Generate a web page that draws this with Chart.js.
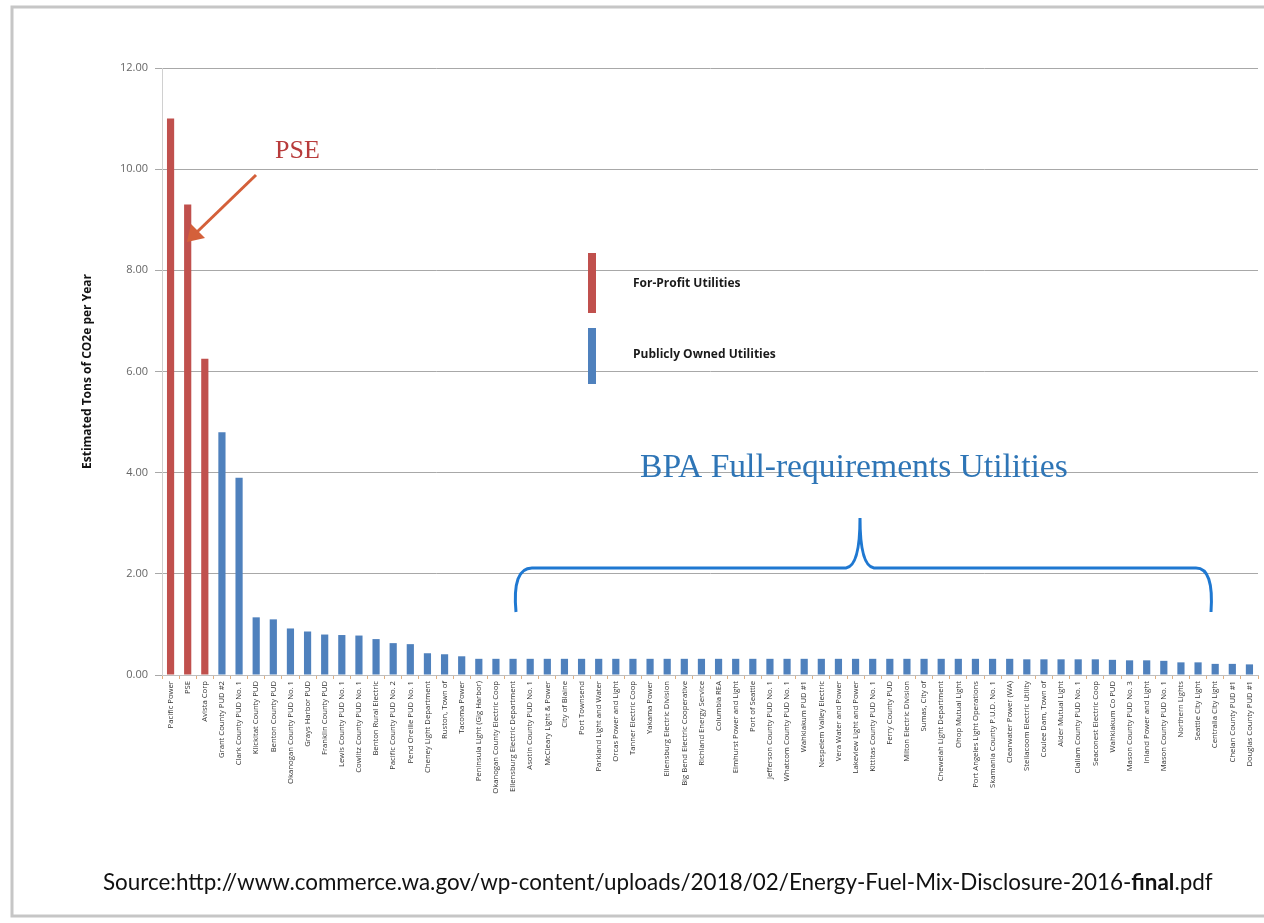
<!DOCTYPE html>
<html>
<head>
<meta charset="utf-8">
<script src="https://cdn.jsdelivr.net/npm/chart.js@4.4.1/dist/chart.umd.min.js"></script>
<style>
  html, body { margin: 0; padding: 0; background: #fff; }
  #wrap { width: 1264px; height: 923px; position: relative; }
</style>
</head>
<body>
<div id="wrap"><canvas id="c" width="1264" height="923"></canvas></div>
<script>
const utilities = [
  "Pacific Power", "PSE", "Avista Corp", "Grant County PUD #2", "Clark County PUD No. 1",
  "Klickitat County PUD", "Benton County PUD", "Okanogan County PUD No. 1", "Grays Harbor PUD",
  "Franklin County PUD", "Lewis County PUD No. 1", "Cowlitz County PUD No. 1", "Benton Rural Electric",
  "Pacific County PUD No. 2", "Pend Oreille PUD No. 1", "Cheney Light Department", "Ruston, Town of",
  "Tacoma Power", "Peninsula Light (Gig Harbor)", "Okanogan County Electric Coop",
  "Ellensburg Electric Department", "Asotin County PUD No. 1", "McCleary Light & Power", "City of Blaine",
  "Port Townsend", "Parkland Light and Water", "Orcas Power and Light", "Tanner Electric Coop",
  "Yakama Power", "Ellensburg Electric Division", "Big Bend Electric Cooperative", "Richland Energy Service",
  "Columbia REA", "Elmhurst Power and Light", "Port of Seattle", "Jefferson County PUD No. 1",
  "Whatcom County PUD No. 1", "Wahkiakum PUD #1", "Nespelem Valley Electric", "Vera Water and Power",
  "Lakeview Light and Power", "Kittitas County PUD No. 1", "Ferry County PUD", "Milton Electric Division",
  "Sumas, City of", "Chewelah Light Department", "Ohop Mutual Light", "Port Angeles Light Operations",
  "Skamania County P.U.D. No. 1", "Clearwater Power (WA)", "Steilacoom Electric Utility",
  "Coulee Dam, Town of", "Alder Mutual Light", "Clallam County PUD No. 1", "Seaconest Electric Coop",
  "Wahkiakum Co PUD", "Mason County PUD No. 3", "Inland Power and Light", "Mason County PUD No. 1",
  "Northern Lights", "Seattle City Light", "Centralia City Light", "Chelan County PUD #1",
  "Douglas County PUD #1"
];

const tonsCO2e = [
  11.0, 9.3, 6.25, 4.8, 3.9,
  1.14, 1.1, 0.92, 0.86,
  0.8, 0.79, 0.78, 0.71,
  0.63, 0.61, 0.43, 0.41,
  0.37, 0.32, 0.32,
  0.32, 0.32, 0.32, 0.32,
  0.32, 0.32, 0.32, 0.32,
  0.32, 0.32, 0.32, 0.32,
  0.32, 0.32, 0.32, 0.32,
  0.32, 0.32, 0.32, 0.32,
  0.32, 0.32, 0.32, 0.32,
  0.32, 0.32, 0.32, 0.32,
  0.32, 0.32, 0.31,
  0.31, 0.31, 0.31, 0.31,
  0.3, 0.29, 0.29, 0.28,
  0.25, 0.25, 0.22, 0.22,
  0.21
];

// first three are for-profit
const forProfit = ["Pacific Power", "PSE", "Avista Corp"];
const yTicks = [0, 2, 4, 6, 8, 10, 12];

const RED = "#c0504d";
const BLUE = "#4f81bd";

const barColors = utilities.map(u => forProfit.includes(u) ? RED : BLUE);

function fitFont(ctx, text, width, weight, family) {
  let size = 30;
  ctx.font = weight + " " + size + "px " + family;
  const w = ctx.measureText(text).width;
  size = size * width / w;
  return weight + " " + size.toFixed(2) + "px " + family;
}

const extras = {
  id: "extras",
  afterDraw(chart) {
    const ctx = chart.ctx;
    ctx.save();

    // outer frame
    ctx.strokeStyle = "#c6c6c6";
    ctx.lineWidth = 3;
    ctx.strokeRect(12, 7, 1270, 909);

    // PSE label + arrow
    ctx.fillStyle = "#b83b3b";
    ctx.font = "26px 'Liberation Serif'";
    ctx.textBaseline = "alphabetic";
    ctx.fillText("PSE", 275, 158);

    ctx.strokeStyle = "#d4603a";
    ctx.fillStyle = "#d4603a";
    ctx.lineWidth = 3;
    ctx.beginPath();
    ctx.moveTo(256, 175);
    ctx.lineTo(197, 232);
    ctx.stroke();
    ctx.beginPath();
    ctx.moveTo(187, 242);
    ctx.lineTo(191, 224);
    ctx.lineTo(205, 238);
    ctx.closePath();
    ctx.fill();

    // legend
    ctx.fillStyle = RED;
    ctx.fillRect(588, 253, 8, 60);
    ctx.fillStyle = BLUE;
    ctx.fillRect(588, 328, 8, 56);
    ctx.fillStyle = "#1a1a1a";
    ctx.font = "bold 12px 'Open Sans'";
    ctx.textBaseline = "middle";
    ctx.fillText("For-Profit Utilities", 633, 284);
    ctx.fillText("Publicly Owned Utilities", 633, 355);

    // BPA label
    ctx.fillStyle = "#2e75b6";
    ctx.textBaseline = "alphabetic";
    const bpa = "BPA Full-requirements Utilities";
    ctx.font = fitFont(ctx, bpa, 428, "normal", "'Liberation Serif'");
    ctx.fillText(bpa, 640, 477);

    // brace
    ctx.strokeStyle = "#1f78d1";
    ctx.lineWidth = 3;
    ctx.beginPath();
    ctx.moveTo(516, 612);
    ctx.quadraticCurveTo(512, 568, 532, 568);
    ctx.lineTo(846, 568);
    ctx.quadraticCurveTo(860, 566, 860, 518);
    ctx.quadraticCurveTo(860, 566, 874, 568);
    ctx.lineTo(1196, 568);
    ctx.quadraticCurveTo(1214, 568, 1211, 612);
    ctx.stroke();

    // source
    ctx.fillStyle = "#111";
    const src1 = "Source:http://www.commerce.wa.gov/wp-content/uploads/2018/02/Energy-Fuel-Mix-Disclosure-2016-";
    const src2 = "final";
    const src3 = ".pdf";
    const fam = "Lato";
    ctx.font = "17px " + fam;
    const w1 = ctx.measureText(src1).width;
    ctx.font = "bold 17px " + fam;
    const w2 = ctx.measureText(src2).width;
    ctx.font = "17px " + fam;
    const w3 = ctx.measureText(src3).width;
    const k = 1110 / (w1 + w2 + w3);
    const fs = (17 * k).toFixed(2);
    let x = 103;
    ctx.font = fs + "px " + fam;
    ctx.fillText(src1, x, 890);
    x += ctx.measureText(src1).width;
    ctx.font = "bold " + fs + "px " + fam;
    ctx.fillText(src2, x, 890);
    x += ctx.measureText(src2).width;
    ctx.font = fs + "px " + fam;
    ctx.fillText(src3, x, 890);

    ctx.restore();
  }
};

new Chart(document.getElementById("c"), {
  type: "bar",
  data: {
    labels: utilities,
    datasets: [{
      data: tonsCO2e,
      backgroundColor: barColors,
      borderWidth: 0,
      barPercentage: 0.42,
      categoryPercentage: 1.0
    }]
  },
  options: {
    responsive: false,
    animation: false,
    events: [],
    layout: { padding: { left: 80, top: 68, right: 6, bottom: 0 } },
    plugins: {
      legend: { display: false },
      tooltip: { enabled: false }
    },
    scales: {
      x: {
        afterFit(scale) { scale.height = 248; },
        grid: {
          drawOnChartArea: false,
          tickLength: 4,
          color: "#e0b080",
          offset: true
        },
        border: { color: "#bfbfbf" },
        ticks: {
          autoSkip: false,
          maxRotation: 90,
          minRotation: 90,
          padding: 2,
          color: "#333",
          font: { family: "'Open Sans'", size: 7.7 }
        }
      },
      y: {
        min: 0,
        max: 12,
        afterFit(scale) { scale.width = 82; },
        afterBuildTicks(scale) { scale.ticks = yTicks.map(v => ({ value: v })); },
        grid: { color: "#a8a8a8", tickLength: 7 },
        border: { color: "#d0d0d0" },
        title: {
          display: true,
          text: "Estimated Tons of CO2e per Year",
          color: "#111",
          font: { family: "'Open Sans'", size: 12, weight: "bold" },
          padding: { top: 0, bottom: 0 }
        },
        ticks: {
          color: "#666",
          padding: 7,
          font: { family: "'Open Sans'", size: 11 },
          callback: v => v.toFixed(2)
        }
      }
    }
  },
  plugins: [extras]
});
</script>
</body>
</html>
